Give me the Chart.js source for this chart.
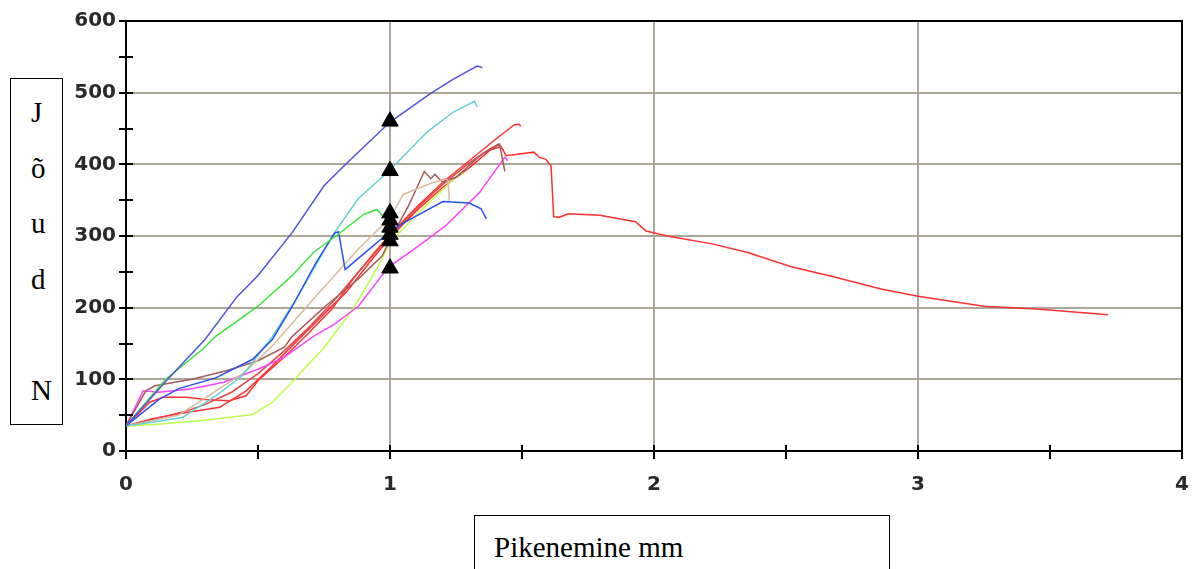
<!DOCTYPE html>
<html>
<head>
<meta charset="utf-8">
<script src="https://cdn.jsdelivr.net/npm/chart.js@4"></script>
<style>
    body { margin: 0; background: #fff; }
    #wrap { position: relative; width: 1195px; height: 569px; overflow: hidden; }
    canvas { position: absolute; left: 0; top: 0; }
    .box { position: absolute; border: 1px solid #000; background: #fff; font-family: "Liberation Serif", "Times New Roman", serif; color: #000; }
    #yTitle { left: 10px; top: 78px; width: 53px; height: 347px; font-size: 29px; line-height: 55.5px; padding-top: 6px; box-sizing: border-box; padding-left: 20px; }
    #xTitle { left: 474px; top: 515px; width: 416px; height: 70px; font-size: 29px; line-height: 29px; padding: 17px 0 0 19px; box-sizing: border-box; }
</style>
</head>
<body>
<div id="wrap">
    <canvas id="chart" width="1195" height="569"></canvas>
    <div class="box" id="yTitle">J<br>õ<br>u<br>d<br>&nbsp;<br>N</div>
    <div class="box" id="xTitle">Pikenemine mm</div>
</div>
<script>
// Tick labels
const xTicks = [0, 1, 2, 3, 4];
const yTicks = [0, 100, 200, 300, 400, 500, 600];

// Series values, [elongation mm, force N]
const slateBlue = [[0,35],[0.15,97],[0.3,156],[0.42,215],[0.5,245],[0.63,305],[0.75,370],[0.84,403],[1.0,459],[1.15,498],[1.24,519],[1.33,537],[1.35,535]];
const green = [[0,35],[0.15,100],[0.29,142],[0.34,160],[0.5,202],[0.63,245],[0.71,277],[0.82,307],[0.9,330],[0.95,337],[0.98,325],[1.0,318]];
const blue = [[0,35],[0.125,72],[0.2,87],[0.34,102],[0.48,128],[0.555,156],[0.63,202],[0.72,263],[0.79,304],[0.805,306],[0.83,253],[0.9,275],[0.98,300],[1.05,318],[1.2,348],[1.3,346],[1.345,338],[1.365,324]];
const cyan = [[0,35],[0.1,40],[0.215,47],[0.34,77],[0.44,105],[0.555,160],[0.65,215],[0.72,260],[0.79,305],[0.88,352],[1.0,392],[1.14,445],[1.24,473],[1.32,488],[1.33,480]];
const tan = [[0,35],[0.2,50],[0.35,86],[0.45,110],[0.555,147],[0.71,212],[0.88,282],[1.0,325],[1.05,358],[1.15,373],[1.21,380],[1.22,377],[1.225,349]];
const brown = [[0,35],[0.075,84],[0.11,91],[0.25,100],[0.38,112],[0.5,126],[0.6,145],[0.63,160],[0.755,202],[0.88,240],[0.97,272],[1.0,295],[1.07,342],[1.13,390],[1.155,380],[1.17,386],[1.2,375],[1.25,382],[1.35,415],[1.415,428],[1.435,390]];
const magenta = [[0,35],[0.065,84],[0.125,82],[0.25,87],[0.37,96],[0.5,114],[0.6,131],[0.71,160],[0.79,177],[0.88,202],[0.97,245],[1.0,258],[1.085,280],[1.21,314],[1.34,361],[1.435,410],[1.445,405]];
const lime = [[0,35],[0.11,37],[0.3,43],[0.48,51],[0.555,68],[0.64,100],[0.68,117],[0.745,142],[0.86,198],[0.955,258],[1.0,290],[1.1,330],[1.2,365],[1.27,389],[1.28,386]];
const redA = [[0,35],[0.09,68],[0.14,75],[0.23,75],[0.3,72],[0.39,70],[0.455,77],[0.505,100],[0.605,133],[0.68,160],[0.78,198],[0.86,240],[0.93,272],[1.0,302],[1.1,340],[1.2,375],[1.3,405],[1.4,435],[1.47,455],[1.49,456],[1.495,453]];
const redB = [[0,35],[0.1,45],[0.2,52],[0.355,61],[0.455,84],[0.53,110],[0.63,147],[0.73,184],[0.835,222],[0.92,262],[1.0,298],[1.1,335],[1.2,368],[1.3,395],[1.38,420],[1.42,425],[1.44,412],[1.545,417],[1.565,410],[1.59,407],[1.61,398],[1.62,327],[1.64,326],[1.675,331],[1.795,329],[1.93,320],[1.97,307],[2.05,300],[2.22,289],[2.355,277],[2.52,257],[2.68,243],[2.86,226],[3.0,216],[3.25,202],[3.45,198],[3.72,190]];
const indianRed = [[0,35],[0.155,49],[0.23,56],[0.3,65],[0.4,82],[0.5,108],[0.6,140],[0.7,175],[0.8,215],[0.9,258],[1.0,300],[1.1,338],[1.2,372],[1.3,402],[1.38,422],[1.41,428],[1.43,420]];

// Force at 1 mm for each specimen
const markX = [1, 1, 1, 1, 1, 1, 1, 1];
const markY = [460, 391, 332, 322, 312, 302, 293, 255];

const series = [
    { data: slateBlue, color: '#5252de' },
    { data: green, color: '#3ee63e' },
    { data: blue, color: '#2a4ff0' },
    { data: cyan, color: '#62d2d2' },
    { data: tan, color: '#d9bc9c' },
    { data: brown, color: '#a85a5a' },
    { data: magenta, color: '#ff44ff' },
    { data: lime, color: '#bcff48' },
    { data: indianRed, color: '#e04848' },
    { data: redA, color: '#ff3434' },
    { data: redB, color: '#ff3030' }
];

function toPoints(pairs) {
    return pairs.map(p => ({ x: p[0], y: p[1] }));
}

const datasets = series.map(s => ({
    data: toPoints(s.data),
    borderColor: s.color,
    borderWidth: 1.5,
    pointRadius: 0,
    tension: 0,
    fill: false,
    order: 1
}));

datasets.push({
    data: markX.map((x, i) => ({ x: x, y: markY[i] })),
    showLine: false,
    pointStyle: 'triangle',
    pointRadius: 9.5,
    backgroundColor: '#000',
    borderColor: '#000',
    borderWidth: 1,
    order: 0
});

// Crossing tick marks and the top/right frame
const frame = {
    id: 'frame',
    afterDraw(chart) {
        const ctx = chart.ctx;
        const a = chart.chartArea;
        const xs = chart.scales.x;
        const ys = chart.scales.y;
        ctx.save();
        ctx.strokeStyle = '#000';
        ctx.lineWidth = 2;
        ctx.beginPath();
        ctx.moveTo(a.left, a.top);
        ctx.lineTo(a.right, a.top);
        ctx.lineTo(a.right, a.bottom);
        ctx.stroke();
        ctx.beginPath();
        for (let v = 0; v <= 600; v += 50) {
            const py = Math.round(ys.getPixelForValue(v));
            ctx.moveTo(a.left - 7, py);
            ctx.lineTo(a.left + 7, py);
        }
        for (let v = 0; v <= 4; v += 0.5) {
            const px = Math.round(xs.getPixelForValue(v));
            ctx.moveTo(px, a.bottom - 6);
            ctx.lineTo(px, a.bottom + 8);
        }
        ctx.stroke();
        ctx.restore();
    }
};

const tickFont = { family: 'DejaVu Sans', size: 20, weight: 'bold' };

new Chart(document.getElementById('chart').getContext('2d'), {
    type: 'line',
    data: { datasets: datasets },
    options: {
        responsive: false,
        animation: false,
        layout: { padding: { top: 21, right: 13, left: 0, bottom: 0 } },
        plugins: { legend: { display: false }, tooltip: { enabled: false } },
        scales: {
            x: {
                type: 'linear',
                min: 0,
                max: 4,
                afterFit: s => { s.height = 118; s.paddingLeft = 0; s.paddingRight = 0; },
                afterBuildTicks: s => { s.ticks = xTicks.map(v => ({ value: v })); },
                grid: {
                    drawTicks: false,
                    lineWidth: 2,
                    color: c => (c.tick && c.tick.value > 0 && c.tick.value < 4) ? '#aca899' : 'rgba(0,0,0,0)'
                },
                border: { display: true, color: '#000', width: 2 },
                ticks: { font: tickFont, color: '#2a2a2a', padding: 22, maxRotation: 0 }
            },
            y: {
                type: 'linear',
                min: 0,
                max: 600,
                afterFit: s => { s.width = 126; s.paddingTop = 0; s.paddingBottom = 0; },
                afterBuildTicks: s => { s.ticks = yTicks.map(v => ({ value: v })); },
                grid: {
                    drawTicks: false,
                    lineWidth: 2,
                    color: c => (c.tick && c.tick.value > 0 && c.tick.value < 600) ? '#aca899' : 'rgba(0,0,0,0)'
                },
                border: { display: true, color: '#000', width: 2 },
                ticks: { font: tickFont, color: '#2a2a2a', padding: 10 }
            }
        }
    },
    plugins: [frame]
});
</script>
</body>
</html>
